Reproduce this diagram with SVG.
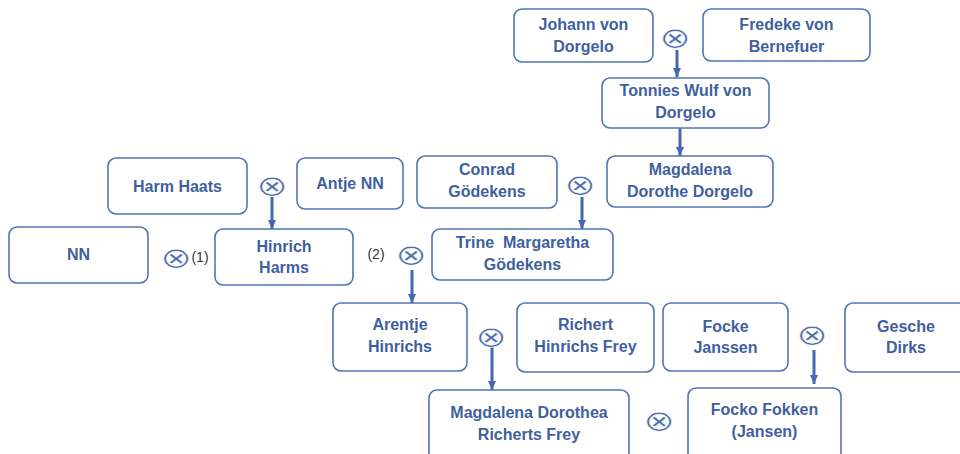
<svg xmlns="http://www.w3.org/2000/svg" width="960" height="454" viewBox="0 0 960 454">
<defs>
<style>
.box{fill:#ffffff;stroke:#5076b3;stroke-width:1.6}
.t{font-family:"Liberation Sans",Arial,sans-serif;font-weight:bold;font-size:16px;fill:#3f5f9f;text-anchor:middle;white-space:pre}
.n{font-family:"Liberation Sans",Arial,sans-serif;font-size:14px;fill:#333333;text-anchor:middle}
.x{font-family:"DejaVu Sans",sans-serif;font-size:29px;fill:#4d6ca8;stroke:#ffffff;stroke-width:0.5;text-anchor:middle;dominant-baseline:central}
.c{stroke:#4469ac;stroke-width:3;fill:none}
</style>
<marker id="ah" markerUnits="userSpaceOnUse" markerWidth="10" markerHeight="8" refX="9" refY="4" orient="auto">
<path d="M0,0 L9,4 L0,8 Z" fill="#4469ac"/>
</marker>
</defs>
<rect width="960" height="454" fill="#ffffff"/>

<g id="connectors">
<line class="c" x1="677" y1="50" x2="677" y2="77" marker-end="url(#ah)"/>
<line class="c" x1="680" y1="128" x2="680" y2="156" marker-end="url(#ah)"/>
<line class="c" x1="272" y1="197" x2="272" y2="229" marker-end="url(#ah)"/>
<line class="c" x1="582" y1="197" x2="582" y2="229" marker-end="url(#ah)"/>
<line class="c" x1="412" y1="270" x2="412" y2="303" marker-end="url(#ah)"/>
<line class="c" x1="492" y1="347" x2="492" y2="390" marker-end="url(#ah)"/>
<line class="c" x1="814" y1="350" x2="814" y2="384" marker-end="url(#ah)"/>
</g>

<g id="marriages">
<text class="x" transform="translate(675,38) scale(1.3,1)">⊗</text>
<text class="x" transform="translate(272,186) scale(1.3,1)">⊗</text>
<text class="x" transform="translate(580,185) scale(1.3,1)">⊗</text>
<text class="x" transform="translate(176,258) scale(1.3,1)">⊗</text>
<text class="x" transform="translate(411,255) scale(1.3,1)">⊗</text>
<text class="x" transform="translate(491,337) scale(1.3,1)">⊗</text>
<text class="x" transform="translate(812,335) scale(1.3,1)">⊗</text>
<text class="x" transform="translate(659,421) scale(1.3,1)">⊗</text>
<text class="n" x="200" y="262">(1)</text>
<text class="n" x="376" y="259">(2)</text>
</g>

<g id="johann">
<rect class="box" x="514" y="9" width="139" height="53" rx="8"/>
<text class="t" x="583.5" y="30">Johann von</text>
<text class="t" x="583.5" y="52">Dorgelo</text>
</g>
<g id="fredeke">
<rect class="box" x="703" y="9" width="167" height="52" rx="8"/>
<text class="t" x="786.5" y="30">Fredeke von</text>
<text class="t" x="786.5" y="52">Bernefuer</text>
</g>
<g id="tonnies">
<rect class="box" x="602" y="78" width="167" height="50" rx="8"/>
<text class="t" x="685.5" y="96">Tonnies Wulf von</text>
<text class="t" x="685.5" y="118">Dorgelo</text>
</g>
<g id="magdalena-dorothe">
<rect class="box" x="607" y="156" width="166" height="51" rx="8"/>
<text class="t" x="690" y="175">Magdalena</text>
<text class="t" x="690" y="197">Dorothe Dorgelo</text>
</g>
<g id="conrad">
<rect class="box" x="417" y="156" width="140" height="52" rx="8"/>
<text class="t" x="487" y="175">Conrad</text>
<text class="t" x="487" y="197">Gödekens</text>
</g>
<g id="trine">
<rect class="box" x="432" y="229" width="181" height="51" rx="8"/>
<text class="t" x="522.5" y="248">Trine  Margaretha</text>
<text class="t" x="522.5" y="270">Gödekens</text>
</g>
<g id="harm">
<rect class="box" x="108" y="158" width="139" height="56" rx="8"/>
<text class="t" x="177.5" y="192">Harm Haats</text>
</g>
<g id="antje">
<rect class="box" x="297" y="158" width="106" height="51" rx="8"/>
<text class="t" x="350" y="189">Antje NN</text>
</g>
<g id="nn">
<rect class="box" x="9" y="227" width="139" height="56" rx="8"/>
<text class="t" x="78.5" y="260">NN</text>
</g>
<g id="hinrich">
<rect class="box" x="215" y="229" width="138" height="56" rx="8"/>
<text class="t" x="284" y="252">Hinrich</text>
<text class="t" x="284" y="273">Harms</text>
</g>
<g id="arentje">
<rect class="box" x="333" y="303" width="134" height="68" rx="8"/>
<text class="t" x="400" y="330">Arentje</text>
<text class="t" x="400" y="352">Hinrichs</text>
</g>
<g id="richert">
<rect class="box" x="517" y="303" width="137" height="69" rx="8"/>
<text class="t" x="585.5" y="330">Richert</text>
<text class="t" x="585.5" y="352">Hinrichs Frey</text>
</g>
<g id="focke">
<rect class="box" x="663" y="303" width="125" height="68" rx="8"/>
<text class="t" x="725.5" y="332">Focke</text>
<text class="t" x="725.5" y="353">Janssen</text>
</g>
<g id="gesche">
<rect class="box" x="845" y="303" width="125" height="69" rx="8"/>
<text class="t" x="906" y="332">Gesche</text>
<text class="t" x="906" y="353">Dirks</text>
</g>
<g id="magdalena-dorothea">
<rect class="box" x="429" y="390" width="200" height="75" rx="8"/>
<text class="t" x="529" y="418">Magdalena Dorothea</text>
<text class="t" x="529" y="440">Richerts Frey</text>
</g>
<g id="focko">
<rect class="box" x="688" y="388" width="153" height="77" rx="8"/>
<text class="t" x="764.5" y="415">Focko Fokken</text>
<text class="t" x="764.5" y="437">(Jansen)</text>
</g>
</svg>
